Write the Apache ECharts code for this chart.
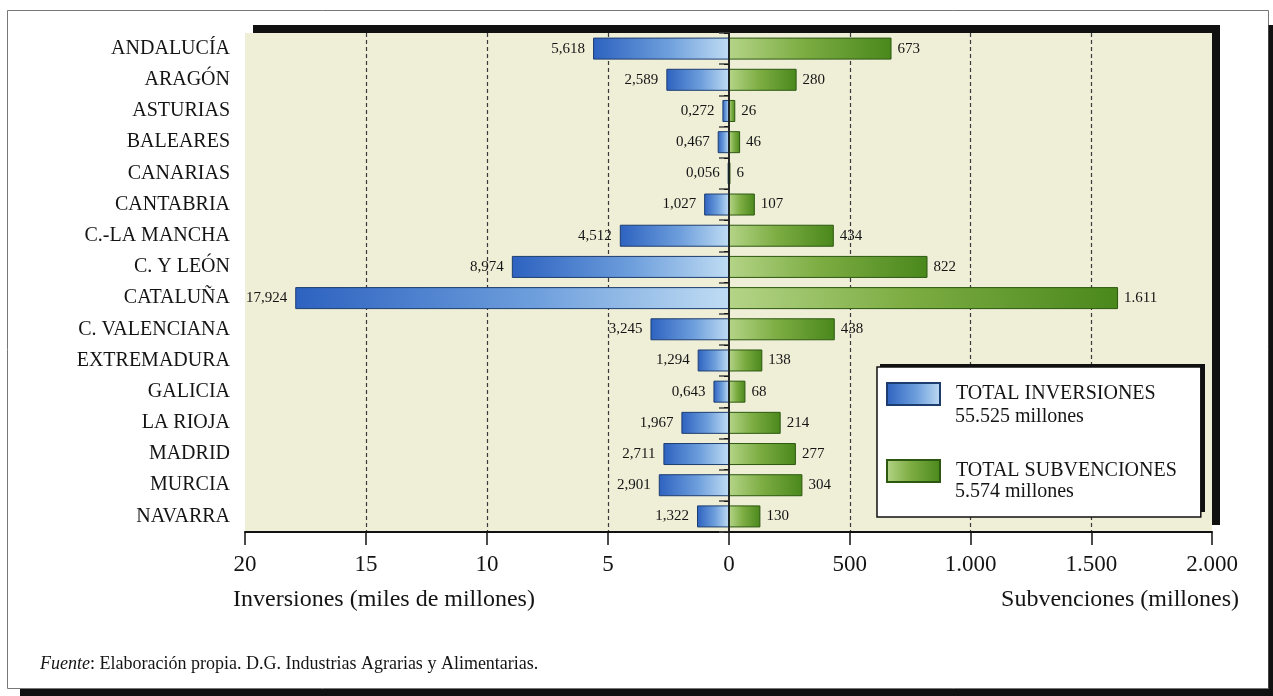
<!DOCTYPE html>
<html>
<head>
<meta charset="utf-8">
<script src="https://cdn.jsdelivr.net/npm/echarts@6/dist/echarts.min.js"></script>
<style>
html,body{margin:0;padding:0;background:#fff;}
#chart{width:1273px;height:696px;}
</style>
</head>
<body>
<div id="chart"></div>
<script>
const categories = ['ANDALUCÍA','ARAGÓN','ASTURIAS','BALEARES','CANARIAS','CANTABRIA','C.-LA MANCHA','C. Y LEÓN','CATALUÑA','C. VALENCIANA','EXTREMADURA','GALICIA','LA RIOJA','MADRID','MURCIA','NAVARRA'];
const inversiones = [5.618,2.589,0.272,0.467,0.056,1.027,4.512,8.974,17.924,3.245,1.294,0.643,1.967,2.711,2.901,1.322];
const subvenciones = [673,280,26,46,6,107,434,822,1611,438,138,68,214,277,304,130];
const legendNames = ['TOTAL INVERSIONES','TOTAL SUBVENCIONES'];
const legendTotals = ['55.525 millones','5.574 millones'];
const axisNames = ['Inversiones (miles de millones)','Subvenciones (millones)'];
const sourceLabel = 'Fuente';
const sourceText = ': Elaboración propia. D.G. Industrias Agrarias y Alimentarias.';

const FONT = '"Liberation Serif","Times New Roman",serif';
const TXT = '#141414';
function thousands(v){ return String(v).replace(/\B(?=(\d{3})+(?!\d))/g, '.'); }

const chart = echarts.init(document.getElementById('chart'), null, {renderer:'canvas'});

const blueGrad = new echarts.graphic.LinearGradient(0,0,1,0,[
  {offset:0,color:'#2d62c0'},{offset:0.55,color:'#6d9edc'},{offset:1,color:'#bfdcf3'}]);
const greenGrad = new echarts.graphic.LinearGradient(0,0,1,0,[
  {offset:0,color:'#b4d487'},{offset:0.45,color:'#7dad43'},{offset:1,color:'#4a881c'}]);

const option = {
  animation:false,
  backgroundColor:'#fff',
  grid:[
    {left:245, top:33, width:484, height:499, show:true, backgroundColor:'#efeed7', borderWidth:0, containLabel:false},
    {left:729, top:33, width:483, height:499, show:true, backgroundColor:'#efeed7', borderWidth:0, containLabel:false}
  ],
  xAxis:[
    {gridIndex:0, type:'value', inverse:true, min:0, max:20, interval:5,
     axisLine:{show:true, lineStyle:{color:'#111', width:2}},
     axisTick:{show:true, length:13, lineStyle:{color:'#111', width:1.5}},
     axisLabel:{fontFamily:FONT, fontSize:23, color:TXT, margin:21, formatter:function(v){return String(v);}},
     splitLine:{show:true, showMinLine:false, showMaxLine:false, lineStyle:{color:'#3a3a3a', width:1.2, type:[4,3]}}},
    {gridIndex:1, type:'value', min:0, max:2000, interval:500,
     axisLine:{show:true, lineStyle:{color:'#111', width:2}},
     axisTick:{show:true, length:13, lineStyle:{color:'#111', width:1.5}},
     axisLabel:{fontFamily:FONT, fontSize:23, color:TXT, margin:21, formatter:function(v){return v===0?'':thousands(v);}},
     splitLine:{show:true, showMinLine:false, showMaxLine:false, lineStyle:{color:'#3a3a3a', width:1.2, type:[4,3]}}}
  ],
  yAxis:[
    {gridIndex:0, type:'category', data:categories, inverse:true, position:'left',
     axisLine:{show:true, lineStyle:{color:'#555', width:2}},
     axisTick:{show:true, length:10, lineStyle:{color:'#444', width:1.5}},
     axisLabel:{fontFamily:FONT, fontSize:20, color:TXT, margin:15}},
    {gridIndex:1, type:'category', data:categories, inverse:true, position:'left', z:5,
     axisLine:{show:true, lineStyle:{color:'#1a1a1a', width:1.5}},
     axisTick:{show:true, length:5, lineStyle:{color:'#1a1a1a', width:1}},
     axisLabel:{show:false}}
  ],
  legend:{
    orient:'vertical', left:877, top:367, itemWidth:53, itemHeight:22, itemGap:53,
    padding:[15,24,34,9], backgroundColor:'#fff', borderColor:'#111', borderWidth:1.5,
    selectedMode:false, icon:'rect', z:6,
    textStyle:{fontFamily:FONT, fontSize:20, color:TXT, padding:[0,0,0,11]},
    data:legendNames
  },
  title:{
    left:35, top:650,
    text:'{i|'+sourceLabel+'}'+sourceText,
    textStyle:{fontFamily:FONT, fontSize:18, fontWeight:'normal', color:TXT,
      rich:{i:{fontFamily:FONT, fontSize:18, fontStyle:'italic', color:TXT}}}
  },
  graphic:[
    {type:'rect', z:-1, shape:{x:253,y:25,width:967,height:500}, style:{fill:'#111'}},
    {type:'rect', z:-2, shape:{x:7.5,y:10.5,width:1261,height:678}, style:{fill:'#fff', stroke:'#777', lineWidth:1}},
    {type:'rect', z:-2, shape:{x:1268.5,y:25,width:5,height:671}, style:{fill:'#111'}},
    {type:'rect', z:-2, shape:{x:20,y:689,width:1253,height:7}, style:{fill:'#111'}},
    {type:'rect', z:5, shape:{x:880,y:364,width:325,height:148}, style:{fill:'#111'}},
    {type:'text', z:10, x:233, y:600, style:{text:axisNames[0], font:'24px '+FONT, fill:TXT, textAlign:'left', verticalAlign:'middle'}},
    {type:'text', z:10, x:1239, y:600, style:{text:axisNames[1], font:'24px '+FONT, fill:TXT, textAlign:'right', verticalAlign:'middle'}},
    {type:'text', z:100, x:955, y:417, style:{text:legendTotals[0], font:'20px '+FONT, fill:TXT, textAlign:'left', verticalAlign:'middle'}},
    {type:'text', z:100, x:955, y:492, style:{text:legendTotals[1], font:'20px '+FONT, fill:TXT, textAlign:'left', verticalAlign:'middle'}}
  ],
  series:[
    {name:legendNames[0], type:'bar', xAxisIndex:0, yAxisIndex:0, data:inversiones, barWidth:22,
     itemStyle:{color:blueGrad, borderColor:'#1d3d6e', borderWidth:1},
     label:{show:true, position:'left', distance:8, fontFamily:FONT, fontSize:15, color:TXT,
       formatter:function(p){return p.value.toFixed(3).replace('.', ',');}}},
    {name:legendNames[1], type:'bar', xAxisIndex:1, yAxisIndex:1, data:subvenciones, barWidth:22,
     itemStyle:{color:greenGrad, borderColor:'#2c5810', borderWidth:1},
     label:{show:true, position:'right', distance:6, fontFamily:FONT, fontSize:15, color:TXT,
       formatter:function(p){return thousands(p.value);}}}
  ]
};
chart.setOption(option);
</script>
</body>
</html>
